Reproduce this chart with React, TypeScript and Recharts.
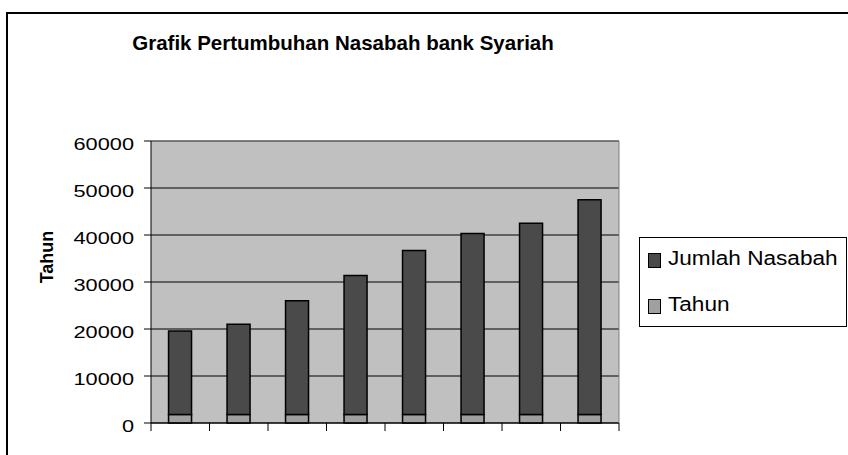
import React from "react";
import {
  Bar,
  BarChart,
  CartesianGrid,
  ReferenceLine,
  XAxis,
  YAxis,
} from "recharts";

// Kategori (tidak ditampilkan di sumbu), dan dua seri yang ditumpuk.
const kategori = ["1", "2", "3", "4", "5", "6", "7", "8"];
const tahun = [1800, 1800, 1800, 1800, 1800, 1800, 1800, 1800];
const jumlahNasabah = [17800, 19200, 24200, 29600, 34900, 38500, 40700, 45700];
const yTicks = [0, 10000, 20000, 30000, 40000, 50000, 60000];

const data = kategori.map((k, i) => ({
  kategori: k,
  tahun: tahun[i],
  jumlahNasabah: jumlahNasabah[i],
}));

const FONT = "'Liberation Sans', Arial, sans-serif";
const WARNA_JUMLAH = "#4a4a4a";
const WARNA_TAHUN = "#a0a0a0";

const CHART_W = 848;
const MARGIN = { top: 141, right: 228, bottom: 12, left: 0 };
const Y_W = 151;
const PLOT_W = CHART_W - MARGIN.left - MARGIN.right - Y_W - 1;
const STEP = PLOT_W / kategori.length;

// garis tick sumbu X di batas antar kategori (bukan di tengah)
function XTick({ x, y, index }: any) {
  return (
    <g>
      <line x1={x - STEP / 2} x2={x - STEP / 2} y1={y} y2={y + 8} stroke="#000" />
      {index === kategori.length - 1 && (
        <line x1={x + STEP / 2} x2={x + STEP / 2} y1={y} y2={y + 8} stroke="#000" />
      )}
    </g>
  );
}

function YTick({ x, y, payload }: any) {
  return (
    <text
      transform={`translate(${x},${y + 8.6}) scale(1.28,1)`}
      textAnchor="end"
      fontSize={17}
      fontFamily={FONT}
      fill="#000"
    >
      {payload.value}
    </text>
  );
}

function LegendItem({ color, label, top }: { color: string; label: string; top: number }) {
  return (
    <div style={{ position: "absolute", left: 8, top }}>
      <div
        style={{
          position: "absolute",
          left: 0,
          top: 5,
          width: 11,
          height: 13,
          background: color,
          border: "1px solid #000",
        }}
      />
      <div
        style={{
          position: "absolute",
          left: 20,
          top: 0,
          fontSize: 20,
          lineHeight: "20px",
          whiteSpace: "nowrap",
          transform: "scaleX(1.13)",
          transformOrigin: "left center",
        }}
      >
        {label}
      </div>
    </div>
  );
}

export default function App() {
  return (
    <div
      style={{
        position: "absolute",
        left: 0,
        top: 0,
        width: 848,
        height: 455,
        overflow: "hidden",
        background: "#fff",
        fontFamily: FONT,
        color: "#000",
      }}
    >
      {/* bingkai luar */}
      <div
        style={{
          position: "absolute",
          left: 6,
          top: 12,
          width: 900,
          height: 500,
          borderLeft: "2px solid #000",
          borderTop: "2px solid #000",
        }}
      />
      <div
        style={{
          position: "absolute",
          left: 343,
          top: 31,
          transform: "translateX(-50%)",
          fontSize: 20.5,
          fontWeight: "bold",
          whiteSpace: "nowrap",
        }}
      >
        Grafik Pertumbuhan Nasabah bank Syariah
      </div>

      <div style={{ position: "absolute", left: 0, top: 0 }}>
        <BarChart
          width={CHART_W}
          height={455}
          data={data}
          barCategoryGap="30%"
          margin={MARGIN}
        >
          <CartesianGrid
            vertical={false}
            stroke="#000"
            fill="#c0c0c0"
            fillOpacity={1}
          />
          <XAxis
            dataKey="kategori"
            height={20}
            tickSize={0}
            tickMargin={0}
            tickLine={false}
            tick={<XTick />}
            axisLine={{ stroke: "#000" }}
          />
          <YAxis
            width={Y_W}
            domain={[0, 60000]}
            ticks={yTicks}
            tickSize={7}
            tickMargin={10}
            tick={<YTick />}
            stroke="#000"
            axisLine={{ stroke: "#000" }}
            tickLine={{ stroke: "#000" }}
            label={() => (
              <text
                transform="translate(53,257) rotate(-90)"
                textAnchor="middle"
                fontSize={18}
                fontWeight="bold"
                fontFamily={FONT}
                fill="#000"
              >
                Tahun
              </text>
            )}
          />
          <YAxis
            yAxisId="kanan"
            orientation="right"
            width={1}
            domain={[0, 60000]}
            tick={false}
            tickLine={false}
            axisLine={{ stroke: "#808080" }}
          />
          <ReferenceLine y={60000} stroke="#808080" />
          <Bar
            dataKey="tahun"
            stackId="a"
            fill={WARNA_TAHUN}
            stroke="#000"
            strokeWidth={1.5}
            isAnimationActive={false}
          />
          <Bar
            dataKey="jumlahNasabah"
            stackId="a"
            fill={WARNA_JUMLAH}
            stroke="#000"
            strokeWidth={1.5}
            isAnimationActive={false}
          />
        </BarChart>
      </div>

      <div
        style={{
          position: "absolute",
          left: 639,
          top: 237,
          width: 206,
          height: 88,
          border: "1px solid #000",
          background: "#fff",
        }}
      >
        <LegendItem color={WARNA_JUMLAH} label="Jumlah Nasabah" top={10} />
        <LegendItem color={WARNA_TAHUN} label="Tahun" top={56} />
      </div>
    </div>
  );
}
